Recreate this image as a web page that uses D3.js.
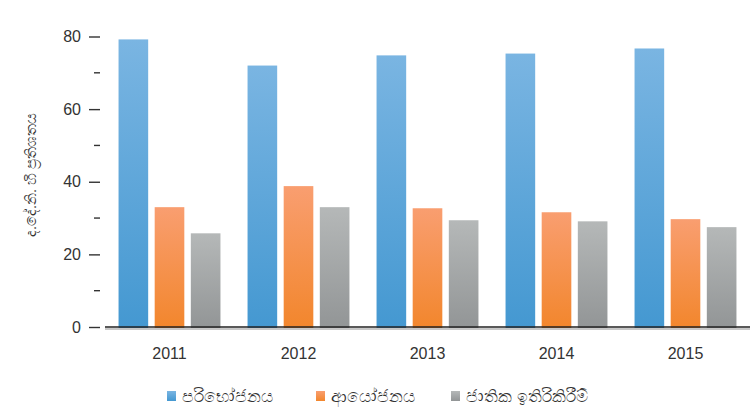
<!DOCTYPE html>
<html>
<head>
<meta charset="utf-8">
<script src="https://cdn.jsdelivr.net/npm/d3@7"></script>
<style>
  body { margin: 0; background: #fff; }
  text { font-family: "Liberation Sans", Arial, "Noto Sans", sans-serif; fill: #333; }
</style>
</head>
<body>
<svg id="chart" width="756" height="412"></svg>
<script>
var years = ["2011", "2012", "2013", "2014", "2015"];
var seriesNames = ["පරිභෝජනය", "ආයෝජනය", "ජාතික ඉතිරිකිරීම්"];
var consumption = [79.2, 72.0, 74.8, 75.3, 76.7];
var investment = [33.0, 38.8, 32.7, 31.6, 29.7];
var savings = [25.8, 33.0, 29.4, 29.1, 27.5];
var yTicks = [0, 20, 40, 60, 80];
var yMinor = [10, 30, 50, 70];
var yLabel = "ද.දේ.නි. හි ප්‍රතිශතය";

var svg = d3.select("#chart");

// gradient colours (top, bottom) per series
var grads = [["#7ab5e2", "#4498d1"], ["#f99e70", "#f2862c"], ["#b5b8b8", "#929596"]];
var defs = svg.append("defs");
grads.forEach(function(g, i) {
    var lg = defs.append("linearGradient").attr("id", "g" + i)
        .attr("x1", 0).attr("y1", 0).attr("x2", 0).attr("y2", 1);
    lg.append("stop").attr("offset", "0%").attr("stop-color", g[0]);
    lg.append("stop").attr("offset", "100%").attr("stop-color", g[1]);
});

var x = d3.scaleBand().domain(years).range([105, 750])
    .paddingInner(0.21).paddingOuter(0.105);
var xs = d3.scaleBand().domain([0, 1, 2]).range([0, x.bandwidth()])
    .paddingInner(0.18).paddingOuter(0);
var y = d3.scaleLinear().domain([0, 80]).range([327, 36.5]);

var data = years.map(function(yr, i) {
    return {year: yr, vals: [consumption[i], investment[i], savings[i]]};
});

// bars
var groups = svg.selectAll("g.yr").data(data).enter().append("g")
    .attr("class", "yr")
    .attr("transform", function(d) { return "translate(" + x(d.year) + ",0)"; });
groups.selectAll("rect").data(function(d) { return d.vals; }).enter().append("rect")
    .attr("x", function(d, i) { return xs(i); })
    .attr("y", function(d) { return y(d); })
    .attr("width", xs.bandwidth())
    .attr("height", function(d) { return y(0) - y(d) + 2; })
    .attr("fill", function(d, i) { return "url(#g" + i + ")"; });

// baseline with light shadow
svg.append("line").attr("x1", 105).attr("x2", 750)
    .attr("y1", y(0) + 2).attr("y2", y(0) + 2)
    .attr("stroke", "#c8c8c8").attr("stroke-width", 2);
svg.append("line").attr("x1", 105).attr("x2", 750)
    .attr("y1", y(0)).attr("y2", y(0))
    .attr("stroke", "#222").attr("stroke-width", 1.5);

// y axis
var yAxis = svg.append("g").attr("transform", "translate(100,0)")
    .call(d3.axisLeft(y).tickValues(yTicks).tickSize(11).tickPadding(8));
yAxis.select(".domain").remove();
yAxis.selectAll(".tick line").attr("stroke", "#333").attr("stroke-width", 1.4);
yAxis.selectAll(".tick text").attr("font-size", 16).attr("fill", "#333")
    .style("font-family", "'Liberation Sans', Arial, sans-serif");
svg.append("g").selectAll("line").data(yMinor).enter().append("line")
    .attr("x1", 94).attr("x2", 100)
    .attr("y1", function(d) { return y(d); }).attr("y2", function(d) { return y(d); })
    .attr("stroke", "#333").attr("stroke-width", 1.4);

// x labels
svg.append("g").selectAll("text").data(years).enter().append("text")
    .attr("x", function(d) { return x(d) + x.bandwidth() / 2; })
    .attr("y", 359)
    .attr("text-anchor", "middle")
    .attr("font-size", 16)
    .text(function(d) { return d; });

// y label
svg.append("text")
    .attr("transform", "translate(36,175) rotate(-90)")
    .attr("text-anchor", "middle")
    .attr("font-size", 14.5)
    .attr("fill", "#555")
    .text(yLabel);

// legend
var legendX = [167, 316, 451];
var lg = svg.append("g").selectAll("g").data(seriesNames).enter().append("g")
    .attr("transform", function(d, i) { return "translate(" + legendX[i] + ",391)"; });
lg.append("rect").attr("width", 9).attr("height", 10).attr("y", 0)
    .attr("fill", function(d, i) { return "url(#g" + i + ")"; });
lg.append("text").attr("x", 15).attr("y", 11).attr("font-size", 17).attr("fill", "#444")
    .text(function(d) { return d; });
</script>
</body>
</html>
